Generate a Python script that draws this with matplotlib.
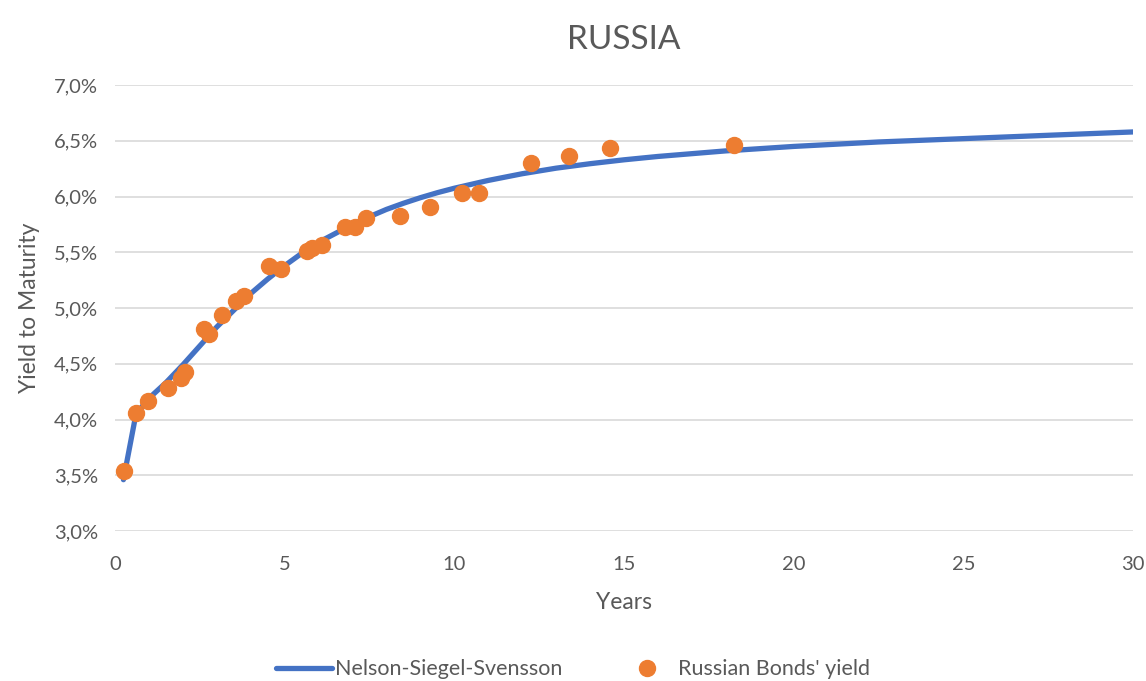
import matplotlib.pyplot as plt
from matplotlib.ticker import FuncFormatter

# bond observations (years to maturity, yield %)
bond_years = [0.27, 0.62, 0.97, 1.56, 1.95, 2.06, 2.62, 2.77, 3.15, 3.57,
              3.80, 4.54, 4.89, 5.66, 5.81, 6.10, 6.78, 7.07, 7.40, 8.40,
              9.28, 10.23, 10.73, 12.26, 13.38, 14.59, 18.24]
bond_yield = [3.54, 4.06, 4.17, 4.28, 4.37, 4.43, 4.81, 4.77, 4.94, 5.06,
              5.11, 5.38, 5.35, 5.51, 5.54, 5.57, 5.73, 5.73, 5.81, 5.83,
              5.91, 6.03, 6.03, 6.30, 6.36, 6.44, 6.46]

# fitted Nelson-Siegel-Svensson curve
nss_years = [0.25, 0.62, 1.0, 1.5, 2.0, 2.5, 3.0, 3.5, 4.0, 4.5, 5.0, 5.5,
             6.0, 6.5, 7.0, 7.5, 8.0, 8.5, 9.0, 9.5, 10.0, 11.0, 12.0, 13.0,
             14.0, 15.0, 16.0, 17.0, 18.0, 20.0, 22.5, 25.0, 27.5, 30.0]
nss_yield = [3.46, 4.05, 4.19, 4.33, 4.49, 4.66, 4.83, 4.98, 5.13, 5.26,
             5.38, 5.49, 5.59, 5.67, 5.75, 5.82, 5.885, 5.94, 5.99, 6.035,
             6.075, 6.145, 6.205, 6.255, 6.295, 6.33, 6.36, 6.385, 6.41,
             6.45, 6.49, 6.52, 6.55, 6.58]

plt.rcParams['font.family'] = ['Lato', 'DejaVu Sans']
text_grey = '#595959'

fig = plt.figure(figsize=(11.46, 6.81), dpi=100)
ax = fig.add_axes([0.1003, 0.2203, 0.8884, 0.6547])

ax.plot(nss_years, nss_yield, color='#4472C4', lw=3.8, solid_capstyle='round',
        solid_joinstyle='round', label='Nelson-Siegel-Svensson', zorder=3)
ax.plot(bond_years, bond_yield, 'o', color='#ED7D31', markersize=11.5,
        label="Russian Bonds' yield", zorder=4)

ax.set_xlim(0, 30)
ax.set_ylim(3.0, 7.0)
ax.set_xticks(range(0, 31, 5))
ax.set_yticks([3.0 + 0.5 * i for i in range(9)])
ax.yaxis.set_major_formatter(FuncFormatter(lambda v, p: f"{v:.1f}%".replace('.', ',')))
ax.tick_params(length=0, labelsize=14.5, colors=text_grey)
ax.tick_params(axis='x', pad=18)
ax.tick_params(axis='y', pad=12)
ax.grid(axis='y', color='#d9d9d9', lw=1.2)
ax.set_axisbelow(True)
for s in ax.spines.values():
    s.set_visible(False)

ax.set_title('RUSSIA', fontsize=24, color=text_grey, pad=26)
ax.set_xlabel('Years', fontsize=16.5, color=text_grey, labelpad=14)
ax.set_ylabel('Yield to Maturity', fontsize=16.5, color=text_grey, labelpad=10)

fig.legend(loc='lower center', bbox_to_anchor=(0.5, -0.026), ncol=2,
           frameon=False, fontsize=15.5, handlelength=2.6, handletextpad=0.15,
           columnspacing=2.6, labelcolor=text_grey)

fig.savefig('out.png', dpi=100)
